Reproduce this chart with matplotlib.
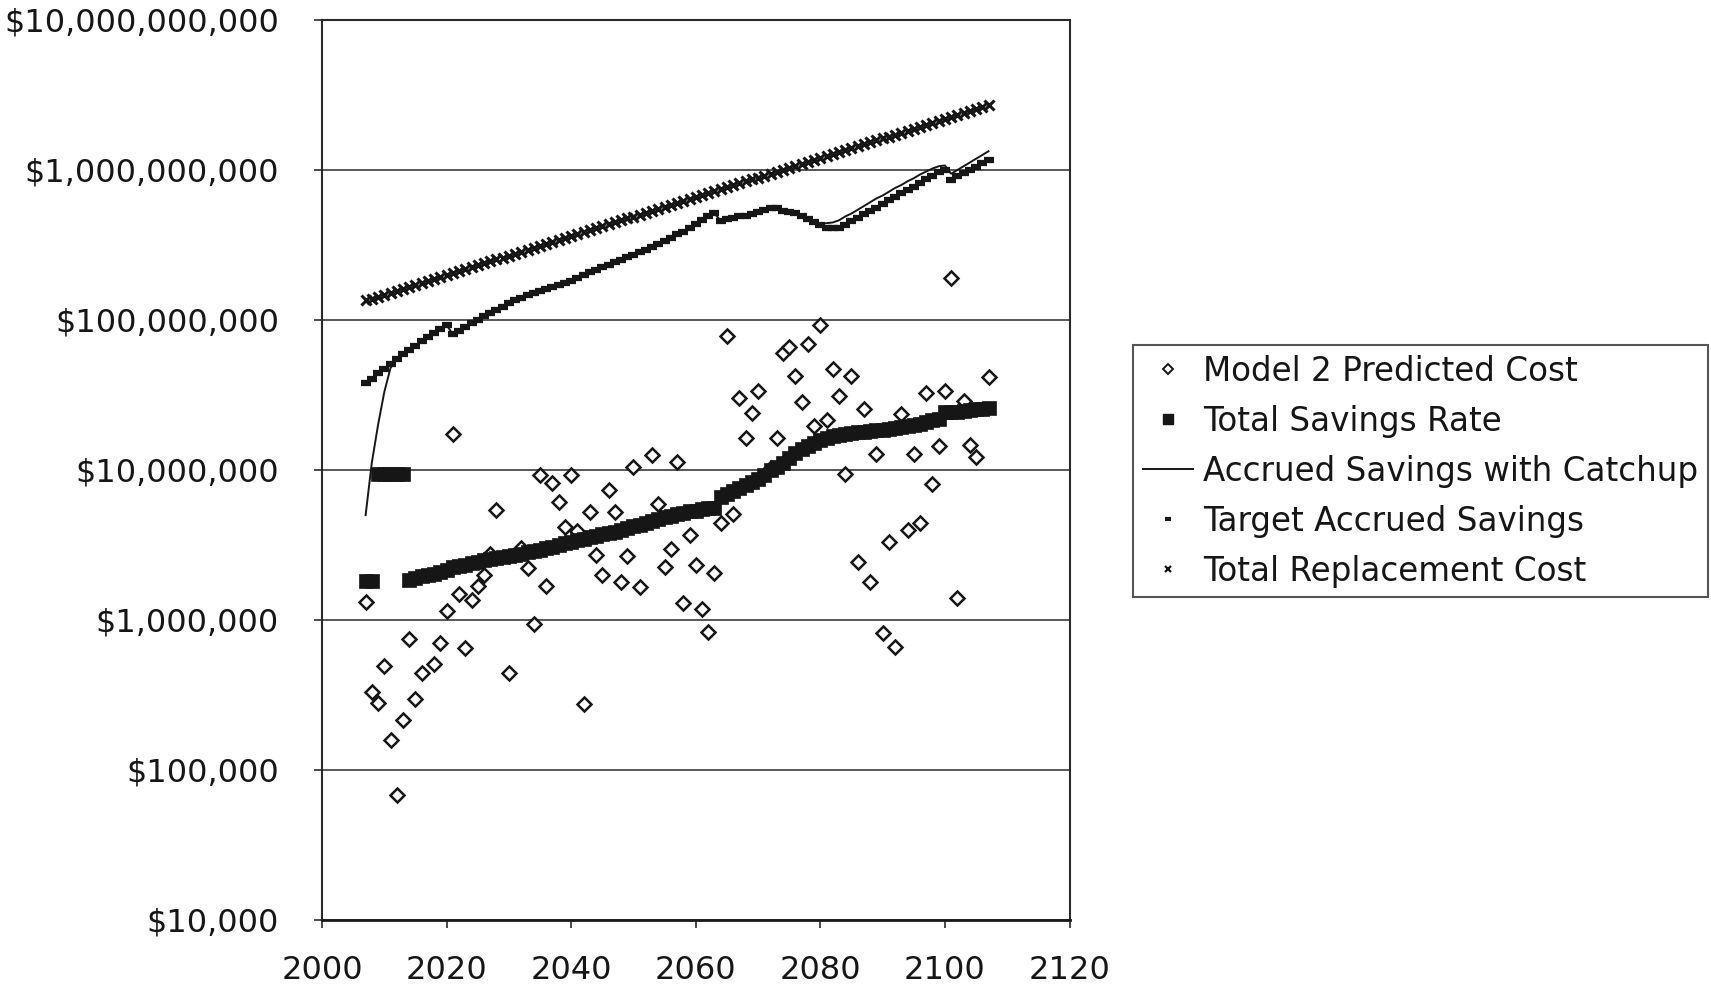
import numpy as np
import matplotlib
matplotlib.use("Agg")
import matplotlib.pyplot as plt
from matplotlib.lines import Line2D
from matplotlib.ticker import FuncFormatter, FixedLocator, NullLocator

plt.rcParams['font.family'] = ['DejaVu Sans']

INK = '#161616'

# ---- data -------------------------------------------------------------
years = np.arange(2007, 2108)

# Model 2 predicted cost (dollars), one point per year
cost_years = [2007, 2008, 2009, 2010, 2011, 2012, 2013, 2014, 2015, 2016,
              2018, 2019, 2020, 2021, 2022, 2023, 2024, 2025, 2026, 2027,
              2028, 2030, 2032, 2033, 2034, 2035, 2036, 2037, 2038, 2039,
              2040, 2041, 2042, 2043, 2044, 2045, 2046, 2047, 2048, 2049,
              2050, 2051, 2053, 2054, 2055, 2056, 2057, 2058, 2059, 2060,
              2061, 2062, 2063, 2064, 2065, 2066, 2067, 2068, 2069, 2070,
              2071, 2072, 2073, 2074, 2075, 2076, 2077, 2078, 2079, 2080,
              2081, 2082, 2083, 2084, 2085, 2086, 2087, 2088, 2089, 2090,
              2091, 2092, 2093, 2094, 2095, 2096, 2097, 2098, 2099, 2100,
              2101, 2102, 2103, 2104, 2105, 2107]
cost_values = [1.31e6, 3.30e5, 2.78e5, 4.97e5, 1.58e5, 6.8e4, 2.15e5, 7.46e5, 2.97e5, 4.41e5,
               5.09e5, 6.98e5, 1.15e6, 1.74e7, 1.48e6, 6.47e5, 1.35e6, 1.69e6, 2.01e6, 2.75e6,
               5.41e6, 4.41e5, 3.02e6, 2.21e6, 9.35e5, 9.33e6, 1.69e6, 8.15e6, 6.08e6, 4.19e6,
               9.27e6, 3.94e6, 2.77e5, 5.27e6, 2.71e6, 2.01e6, 7.36e6, 5.27e6, 1.78e6, 2.66e6,
               1.05e7, 1.65e6, 1.25e7, 5.97e6, 2.27e6, 2.96e6, 1.13e7, 1.29e6, 3.67e6, 2.32e6,
               1.18e6, 8.32e5, 2.05e6, 4.46e6, 7.87e7, 5.10e6, 3.01e7, 1.63e7, 2.39e7, 3.38e7,
               9.27e6, 1.03e7, 1.63e7, 6.05e7, 6.58e7, 4.24e7, 2.82e7, 6.89e7, 1.98e7, 9.27e7,
               2.15e7, 4.71e7, 3.13e7, 9.38e6, 4.26e7, 2.45e6, 2.55e7, 1.80e6, 1.28e7, 8.24e5,
               3.33e6, 6.64e5, 2.37e7, 3.98e6, 1.28e7, 4.41e6, 3.24e7, 8.02e6, 1.45e7, 3.37e7,
               1.90e8, 1.40e6, 2.90e7, 1.47e7, 1.23e7, 4.19e7]

# Total savings rate, millions of dollars, 2007-2107
savings_rate_musd = [
    1.83, 1.83, 9.4, 9.4, 9.4, 9.4, 9.4, 1.86, 1.91, 1.95,
    2.00, 2.04, 2.09, 2.14, 2.26, 2.29, 2.34, 2.40, 2.45, 2.51,
    2.57, 2.60, 2.63, 2.69, 2.72, 2.75, 2.82, 2.88, 2.95, 3.02,
    3.09, 3.16, 3.24, 3.31, 3.39, 3.47, 3.55, 3.63, 3.72, 3.80,
    3.89, 3.98, 4.12, 4.22, 4.32, 4.42, 4.57, 4.73, 4.84, 4.95,
    5.07, 5.19, 5.31, 5.37, 5.50, 5.56, 5.62, 6.61, 6.92, 7.24,
    7.59, 7.94, 8.32, 8.71, 9.33, 10.0, 10.5, 11.2, 12.0, 12.9,
    13.8, 14.5, 15.1, 15.8, 16.4, 16.8, 17.2, 17.4, 17.6, 17.8,
    18.0, 18.2, 18.4, 18.6, 18.8, 19.1, 19.3, 19.5, 20.0, 20.4,
    20.9, 21.4, 21.9, 24.3, 24.3, 24.5, 24.8, 25.1, 25.4, 25.7,
    26.0]

# Accrued savings with catchup, millions of dollars, 2007-2107
catchup_musd = [
    5.0, 11.2, 20.0, 33.1, 47.9, 55.0, 58.9, 63.1, 67.6, 72.4,
    76.7, 82.2, 87.1, 92.7, 80.4, 85.1, 90.2, 95.5, 100, 107,
    112, 117, 123, 129, 135, 141, 146, 151, 157, 162,
    166, 172, 176, 182, 191, 200, 209, 216, 224, 234,
    243, 251, 263, 272, 282, 295, 309, 320, 335, 351,
    372, 389, 412, 437, 462, 490, 514, 459, 470, 481,
    490, 495, 507, 525, 543, 562, 556, 531, 525, 513,
    490, 473, 452, 437, 442, 447, 462, 490, 513, 543,
    575, 610, 646, 676, 716, 759, 794, 841, 881, 933,
    977, 1023, 1059, 1072, 944, 1000, 1059, 1122, 1189, 1259,
    1334]

# Target accrued savings, millions of dollars, 2007-2107
target_musd = [
    37.8, 40.7, 44.2, 47.3, 50.7, 55.0, 58.9, 63.1, 67.6, 72.4,
    76.7, 82.2, 87.1, 92.7, 80.4, 85.1, 90.2, 95.5, 100, 107,
    112, 117, 123, 129, 135, 141, 146, 151, 157, 162,
    166, 172, 176, 182, 191, 200, 209, 216, 224, 234,
    243, 251, 263, 272, 282, 295, 309, 320, 335, 351,
    372, 389, 412, 437, 462, 490, 514, 459, 470, 481,
    490, 495, 507, 525, 543, 562, 556, 531, 525, 513,
    490, 473, 452, 427, 412, 409, 412, 432, 457, 479,
    507, 537, 562, 596, 631, 661, 700, 741, 776, 822,
    871, 912, 966, 1000, 861, 906, 953, 1000, 1052, 1109,
    1167]

# Total replacement cost, millions of dollars, 2007-2107
replacement_musd = [
    135.0, 139.1, 143.3, 147.7, 152.2, 156.8, 161.6, 166.5, 171.6, 176.8,
    182.2, 187.7, 193.4, 199.3, 205.4, 211.6, 218.1, 224.7, 231.5, 238.6,
    245.8, 253.3, 261.0, 268.9, 277.1, 285.5, 294.2, 303.2, 312.4, 321.9,
    331.7, 341.8, 352.2, 362.9, 373.9, 385.3, 397.0, 409.1, 421.5, 434.3,
    447.5, 461.1, 475.1, 489.6, 504.5, 519.8, 535.6, 551.9, 568.7, 586.0,
    603.8, 622.1, 641.0, 660.5, 680.6, 701.3, 722.6, 744.6, 767.2, 790.5,
    814.6, 839.3, 864.8, 891.1, 918.2, 946.1, 974.9, 1004.5, 1035.1, 1066.5,
    1099.0, 1132.4, 1166.8, 1202.3, 1238.9, 1276.5, 1315.3, 1355.3, 1396.5, 1439.0,
    1482.7, 1527.8, 1574.2, 1622.1, 1671.4, 1722.2, 1774.6, 1828.5, 1884.1, 1941.4,
    2000.4, 2061.2, 2123.9, 2188.4, 2255.0, 2323.5, 2394.1, 2466.9, 2541.9, 2619.2,
    2698.8]

series_labels = ["Model 2 Predicted Cost", "Total Savings Rate",
                 "Accrued Savings with Catchup", "Target Accrued Savings",
                 "Total Replacement Cost"]

x_ticks = [2000, 2020, 2040, 2060, 2080, 2100, 2120]
y_ticks = [1e4, 1e5, 1e6, 1e7, 1e8, 1e9, 1e10]

MUSD = 1e6

# ---- figure -----------------------------------------------------------
W, H = 1711, 989
fig = plt.figure(figsize=(W / 100, H / 100), dpi=100)
fig.patch.set_facecolor('white')
ax = fig.add_axes([322 / W, 69 / H, (1069.5 - 322) / W, 900 / H])

ax.plot(cost_years, cost_values, linestyle='none', marker='D', markersize=7,
        markerfacecolor='white', markeredgecolor=INK, markeredgewidth=1.8,
        zorder=3)
ax.plot(years, np.array(savings_rate_musd) * MUSD, linestyle='none', marker='s',
        markersize=10.5, markerfacecolor=INK, markeredgecolor=INK,
        markeredgewidth=0.5, zorder=4)
ax.plot(years, np.array(target_musd) * MUSD, linestyle='none', marker='_',
        markersize=6.5, markeredgewidth=4.5, color=INK, zorder=5)
ax.plot(years, np.array(catchup_musd) * MUSD, linestyle='-', linewidth=1.4,
        color=INK, zorder=6)
ax.plot(years, np.array(replacement_musd) * MUSD, linestyle='none', marker='x',
        markersize=6.5, markeredgewidth=2.2, color=INK, zorder=5)

ax.set_yscale('log')
ax.set_xlim(2000, 2120)
ax.set_ylim(1e4, 1e10)
ax.xaxis.set_major_locator(FixedLocator(x_ticks))
ax.yaxis.set_major_locator(FixedLocator(y_ticks))
ax.yaxis.set_minor_locator(NullLocator())
ax.xaxis.set_minor_locator(NullLocator())
ax.yaxis.set_major_formatter(FuncFormatter(lambda v, p: f"${v:,.0f}"))
ax.xaxis.set_major_formatter(FuncFormatter(lambda v, p: f"{v:.0f}"))

ax.grid(axis='y', color='#4a4a4a', linewidth=1.3, zorder=1)
ax.set_axisbelow(True)
for side in ('left', 'top', 'right'):
    ax.spines[side].set_color('#2a2a2a')
    ax.spines[side].set_linewidth(1.5)
ax.spines['bottom'].set_color('#1a1a1a')
ax.spines['bottom'].set_linewidth(2.0)

ax.tick_params(axis='y', which='major', direction='out', length=6, width=1.2,
               pad=25, labelsize=23, colors='#2a2a2a', labelcolor=INK)
ax.tick_params(axis='x', which='major', direction='out', length=6, width=1.2,
               pad=19, labelsize=23, colors='#2a2a2a', labelcolor=INK)

handles = [
    Line2D([], [], linestyle='none', marker='D', markersize=5,
           markerfacecolor='white', markeredgecolor=INK, markeredgewidth=1.4),
    Line2D([], [], linestyle='none', marker='s', markersize=7,
           markerfacecolor=INK, markeredgecolor=INK),
    Line2D([], [], linestyle='-', linewidth=1.4, color=INK),
    Line2D([], [], linestyle='none', marker='_', markersize=5,
           markeredgewidth=3.0, color=INK),
    Line2D([], [], linestyle='none', marker='x', markersize=5,
           markeredgewidth=1.6, color=INK),
]
leg = fig.legend(handles, series_labels, loc='upper left',
                 bbox_to_anchor=(1133 / W, 1 - 345 / H),
                 bbox_transform=fig.transFigure, fontsize=23.5,
                 frameon=True, fancybox=False, shadow=False,
                 borderpad=0.3, borderaxespad=0, labelspacing=0.52,
                 handlelength=1.55, handletextpad=0.3, labelcolor=INK)
leg.get_frame().set_edgecolor('#2a2a2a')
leg.get_frame().set_linewidth(1.5)

fig.savefig('out.png', dpi=100, facecolor='white')
